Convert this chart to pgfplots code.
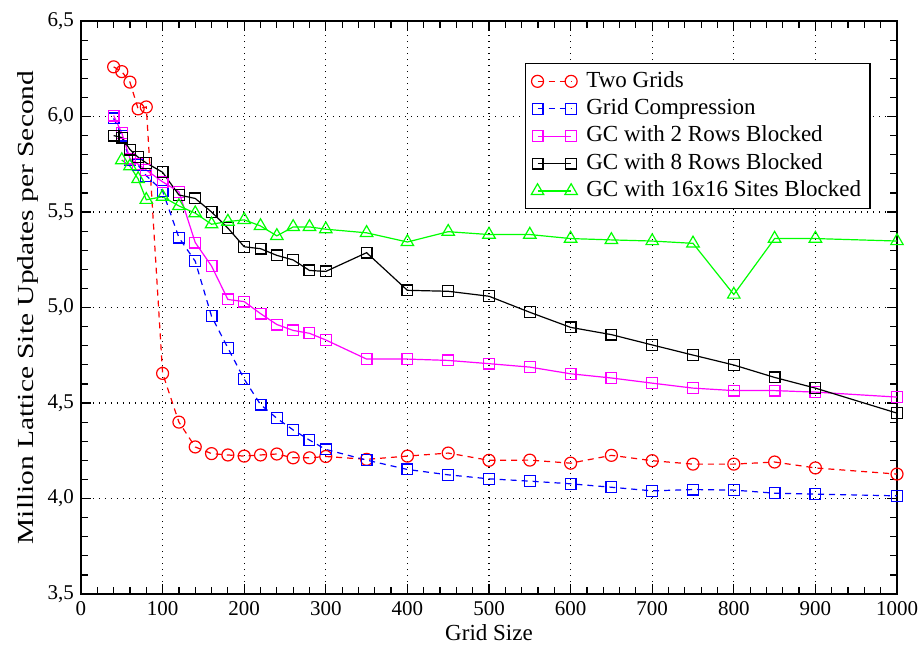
\documentclass[border=0pt]{standalone}
\usepackage{pgfplots}
\pgfplotsset{compat=1.18}
\usepackage{fontspec}
\setmainfont{Liberation Serif}
\usepackage{graphicx}
\definecolor{cRed}{RGB}{255,0,0}
\definecolor{cBlue}{RGB}{0,0,255}
\definecolor{cMag}{RGB}{255,0,255}
\definecolor{cGreen}{RGB}{0,255,0}

\pgfplotstableread{
x y
40 6.26
50 6.235
60 6.18
70 6.04
80 6.05
100 4.655
120 4.40
140 4.27
160 4.235
180 4.228
200 4.222
220 4.228
240 4.233
260 4.213
280 4.213
300 4.22
350 4.205
400 4.222
450 4.238
500 4.200
550 4.201
600 4.185
650 4.226
700 4.198
750 4.18
800 4.18
850 4.191
900 4.16
1000 4.128
}\twogrids

\pgfplotstableread{
x y
40 5.99
50 5.90
60 5.77
70 5.745
80 5.69
100 5.61
120 5.366
140 5.242
160 4.954
180 4.788
200 4.625
220 4.492
240 4.42
260 4.359
280 4.306
300 4.257
350 4.201
400 4.152
450 4.124
500 4.103
550 4.091
600 4.077
650 4.059
700 4.04
750 4.047
800 4.044
850 4.028
900 4.023
1000 4.014
}\gridcomp

\pgfplotstableread{
x y
40 6.005
50 5.914
60 5.78
70 5.75
80 5.72
100 5.658
120 5.606
140 5.34
160 5.217
180 5.042
200 5.031
220 4.968
240 4.911
260 4.88
280 4.865
300 4.83
350 4.73
400 4.73
450 4.723
500 4.706
550 4.688
600 4.653
650 4.631
700 4.604
750 4.578
800 4.565
850 4.565
900 4.557
1000 4.531
}\gctwo

\pgfplotstableread{
x y
40 5.90
50 5.89
60 5.827
70 5.787
80 5.757
100 5.708
120 5.589
140 5.571
160 5.50
180 5.416
200 5.318
220 5.308
240 5.273
260 5.249
280 5.194
300 5.189
350 5.287
400 5.09
450 5.085
500 5.059
550 4.975
600 4.896
650 4.858
700 4.804
750 4.751
800 4.699
850 4.634
900 4.578
1000 4.447
}\gceight

\pgfplotstableread{
x y
50 5.772
60 5.74
70 5.673
80 5.564
100 5.58
120 5.532
140 5.494
160 5.436
180 5.45
200 5.459
220 5.427
240 5.375
260 5.422
280 5.422
300 5.41
350 5.391
400 5.343
450 5.397
500 5.382
550 5.382
600 5.361
650 5.354
700 5.348
750 5.336
800 5.068
850 5.361
900 5.361
1000 5.348
}\gcsixteen

\begin{document}
\begin{tikzpicture}
\path[use as bounding box] (-40.5pt,-25.5pt) rectangle (419.5pt,297pt);
\begin{axis}[
  at={(0pt,0pt)}, anchor=south west,
  scale only axis, width=408pt, height=286.5pt,
  xmin=0, xmax=1000, ymin=3.5, ymax=6.5,
  xtick={0,100,200,300,400,500,600,700,800,900,1000},
  ytick={3.5,4.0,4.5,5.0,5.5,6.0,6.5},
  minor x tick num=4, minor y tick num=4,
  tick align=inside, major tick length=5pt, minor tick length=3.5pt,
  tick style={black, line width=0.6pt},
  axis line style={black, line width=0.8pt},
  grid=major,
  major grid style={black, line width=0.6pt, dash pattern=on 0.6pt off 2.4pt},
  /pgf/number format/assume math mode=true,
  xticklabel style={font=\fontsize{10.5}{12}\selectfont, /pgf/number format/1000 sep={}},
  yticklabel style={font=\fontsize{10.5}{12}\selectfont, /pgf/number format/.cd, fixed, fixed zerofill, precision=1, use comma},
  xlabel={Grid Size},
  ylabel={\scalebox{1.28}[1]{Million Lattice Site Updates per Second}},
  label style={font=\fontsize{11.5}{13}\selectfont},
  xlabel style={at={(axis description cs:0.5,-0.068)}, anchor=center},
  ylabel style={at={(axis description cs:-0.065,0.5)}, anchor=center},
  legend cell align=left,
  legend style={at={(0.968,0.927)}, anchor=north east, draw=black, line width=0.8pt,
    font=\fontsize{11.5}{13}\selectfont, row sep=0pt, inner xsep=3pt, inner ysep=2pt,
    nodes={inner sep=1.5pt, text height=8.2pt, text depth=2.5pt},
    /tikz/every odd column/.append style={column sep=3pt}},
  legend image code/.code={\draw[mark repeat=2,mark phase=1,#1] plot coordinates {(0pt,0pt)(8.4pt,0pt)(16.8pt,0pt)};},
]
\addplot[cRed, line width=0.6pt, dash pattern=on 3pt off 2.5pt, mark=o, mark size=3pt, mark options={solid}] table[x=x,y=y] {\twogrids};
\addlegendentry{Two Grids}
\addplot[cBlue, line width=0.6pt, dash pattern=on 3pt off 2.5pt, mark=square, mark size=2.7pt, mark options={solid}] table[x=x,y=y] {\gridcomp};
\addlegendentry{Grid Compression}
\addplot[cMag, line width=0.6pt, mark=square, mark size=2.7pt] table[x=x,y=y] {\gctwo};
\addlegendentry{GC with 2 Rows Blocked}
\addplot[black, line width=0.6pt, mark=square, mark size=2.7pt] table[x=x,y=y] {\gceight};
\addlegendentry{GC with 8 Rows Blocked}
\addplot[cGreen, line width=0.6pt, mark=triangle, mark size=3.6pt] table[x=x,y=y] {\gcsixteen};
\addlegendentry{GC with 16x16 Sites Blocked}
\end{axis}
\end{tikzpicture}
\end{document}
